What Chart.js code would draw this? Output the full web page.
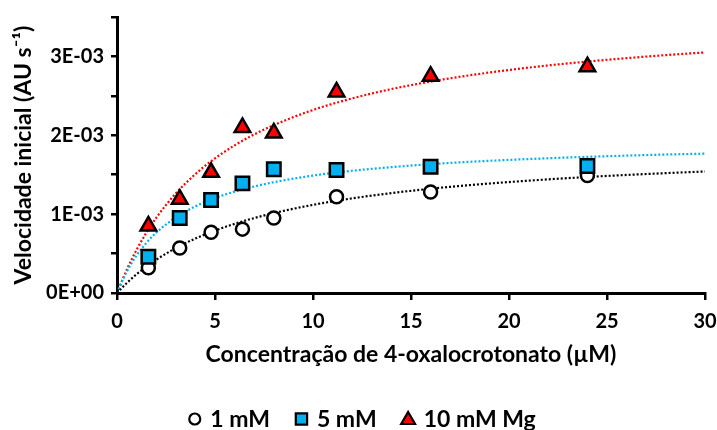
<!DOCTYPE html>
<html>
<head>
<meta charset="utf-8">
<script src="https://cdn.jsdelivr.net/npm/chart.js@4.4.1/dist/chart.umd.min.js"></script>
<style>
  html, body { margin: 0; padding: 0; background: #fff; }
  #wrap { width: 717px; height: 430px; }
</style>
</head>
<body>
<div id="wrap"><canvas id="chart"></canvas></div>
<script>
// measured points: concentration (uM) and initial velocity (AU/s)
const conc = [1.6, 3.2, 4.8, 6.4, 8.0, 11.2, 16, 24];
const v1mM = [0.00032, 0.00057, 0.00077, 0.00081, 0.00095, 0.00122, 0.00128, 0.00149];
const v5mM = [0.00046, 0.00095, 0.00118, 0.00139, 0.00157, 0.00156, 0.00160, 0.00161];
const v10mM = [0.00085, 0.00119, 0.00153, 0.00210, 0.00203, 0.00255, 0.00275, 0.00287];

// dotted fit curves (x in uM, y in 1E-03 AU/s)
const fitX = [0, 0.5, 1, 1.5, 2, 3, 4, 5, 6, 7, 8, 10, 12, 14, 16, 18, 20, 22, 24, 26, 28, 30];
const fit1mM = [0, 0.127, 0.238, 0.335, 0.422, 0.570, 0.691, 0.792, 0.877, 0.950, 1.013, 1.118, 1.200, 1.267, 1.322, 1.368, 1.407, 1.441, 1.471, 1.497, 1.520, 1.541];
const fit5mM = [0, 0.271, 0.476, 0.636, 0.765, 0.959, 1.099, 1.204, 1.286, 1.351, 1.405, 1.489, 1.550, 1.596, 1.634, 1.664, 1.688, 1.709, 1.727, 1.742, 1.756, 1.767];
const fit10mM = [0, 0.297, 0.548, 0.765, 0.953, 1.263, 1.508, 1.708, 1.872, 2.011, 2.129, 2.321, 2.468, 2.586, 2.681, 2.761, 2.828, 2.886, 2.935, 2.978, 3.017, 3.051];

const yLabels = { '0': '0E+00', '0.001': '1E-03', '0.002': '2E-03', '0.003': '3E-03' };

const FONT = 'Lato, "Open Sans", sans-serif';
const BLUE = '#00B0F0';
const RED = '#FF0000';

function pts(xs, ys, scale) {
    return xs.map((x, i) => ({ x: x, y: ys[i] * scale }));
}

function fitLine(ys, color) {
    return {
        type: 'line',
        label: '',
        data: pts(fitX, ys, 0.001),
        borderColor: color,
        borderWidth: 2.2,
        borderDash: [2, 2],
        pointRadius: 0,
        fill: false,
        cubicInterpolationMode: 'monotone',
        order: 4
    };
}

// legend drawn by hand so marker/text gaps match the original
const legendPlugin = {
    id: 'bottomLegend',
    afterDraw(chart) {
        const c = chart.ctx;
        const items = chart.data.datasets.filter(d => d.label !== '');
        c.save();
        c.font = 'bold 23px ' + FONT;
        const markW = 13, gapIn = 9, gapOut = 25;
        let total = 0;
        items.forEach((d, i) => {
            total += markW + gapIn + c.measureText(d.label).width;
            if (i > 0) total += gapOut;
        });
        let x = 362 - total / 2;
        const y = 419;
        items.forEach((d) => {
            c.fillStyle = d.backgroundColor;
            c.strokeStyle = '#000';
            c.lineWidth = 2.2;
            const r = d.pointStyle === 'circle' ? 5.5 : 8;
            Chart.helpers.drawPoint(c, { pointStyle: d.pointStyle, radius: r, rotation: 0, borderWidth: 2.2 },
                x + markW / 2, d.pointStyle === 'triangle' ? y + 1 : y);
            x += markW + gapIn;
            c.fillStyle = '#000';
            c.textAlign = 'left';
            c.textBaseline = 'alphabetic';
            c.fillText(d.label, x, y + 8);
            x += c.measureText(d.label).width + gapOut;
        });
        c.restore();
    }
};

const ctx = document.getElementById('chart').getContext('2d');
const chart = new Chart(ctx, {
    type: 'scatter',
    plugins: [legendPlugin],
    data: {
        datasets: [
            {
                label: '1 mM',
                data: pts(conc, v1mM, 1),
                pointStyle: 'circle',
                pointRadius: 6.5,
                backgroundColor: '#ffffff',
                borderColor: '#000000',
                borderWidth: 2.5,
                order: 3
            },
            {
                label: '5 mM',
                data: pts(conc, v5mM, 1),
                pointStyle: 'rect',
                pointRadius: 9.5,
                backgroundColor: BLUE,
                borderColor: '#000000',
                borderWidth: 2.5,
                order: 2
            },
            {
                label: '10 mM Mg',
                data: pts(conc, v10mM, 1),
                pointStyle: 'triangle',
                pointRadius: 9,
                backgroundColor: RED,
                borderColor: '#000000',
                borderWidth: 2.5,
                order: 1
            },
            fitLine(fit1mM, '#000000'),
            fitLine(fit5mM, BLUE),
            fitLine(fit10mM, RED)
        ]
    },
    options: {
        responsive: true,
        maintainAspectRatio: false,
        animation: false,
        layout: { padding: { left: 0, right: 0, top: 17, bottom: 62 } },
        plugins: {
            tooltip: { enabled: false },
            legend: { display: false }
        },
        scales: {
            x: {
                type: 'linear',
                min: 0,
                max: 30,
                ticks: {
                    stepSize: 5,
                    color: '#000',
                    padding: 10,
                    font: { family: FONT, size: 20, weight: 'bold' }
                },
                grid: {
                    drawOnChartArea: false,
                    drawTicks: true,
                    tickLength: 7,
                    color: '#000',
                    lineWidth: 2.5
                },
                border: { display: true, color: '#000', width: 3 },
                title: {
                    display: true,
                    text: 'Concentração de 4-oxalocrotonato (µM)',
                    color: '#000',
                    padding: { top: 0, bottom: 0 },
                    font: { family: FONT, size: 23, weight: 'bold' }
                },
                afterFit: (scale) => {
                    scale.height = 75;
                    scale.paddingLeft = 0;
                    scale.paddingRight = 12;
                }
            },
            y: {
                type: 'linear',
                min: 0,
                max: 0.0035,
                ticks: {
                    stepSize: 0.0005,
                    autoSkip: false,
                    color: '#000',
                    padding: 7,
                    font: { family: FONT, size: 20, weight: 'bold' },
                    callback: (value) => {
                        const key = String(Math.round(value * 10000) / 10000);
                        return yLabels[key] !== undefined ? yLabels[key] : '';
                    }
                },
                grid: {
                    drawOnChartArea: false,
                    drawTicks: true,
                    tickLength: 6,
                    color: '#000',
                    lineWidth: 2.5
                },
                border: { display: true, color: '#000', width: 3 },
                title: {
                    display: true,
                    text: 'Velocidade inicial (AU s⁻¹)',
                    color: '#000',
                    padding: { top: 10, bottom: 0 },
                    font: { family: FONT, size: 23, weight: 'bold' }
                },
                afterFit: (scale) => {
                    scale.width = 117;
                    scale.paddingTop = 0;
                    scale.paddingBottom = 0;
                }
            }
        }
    }
});
</script>
</body>
</html>
